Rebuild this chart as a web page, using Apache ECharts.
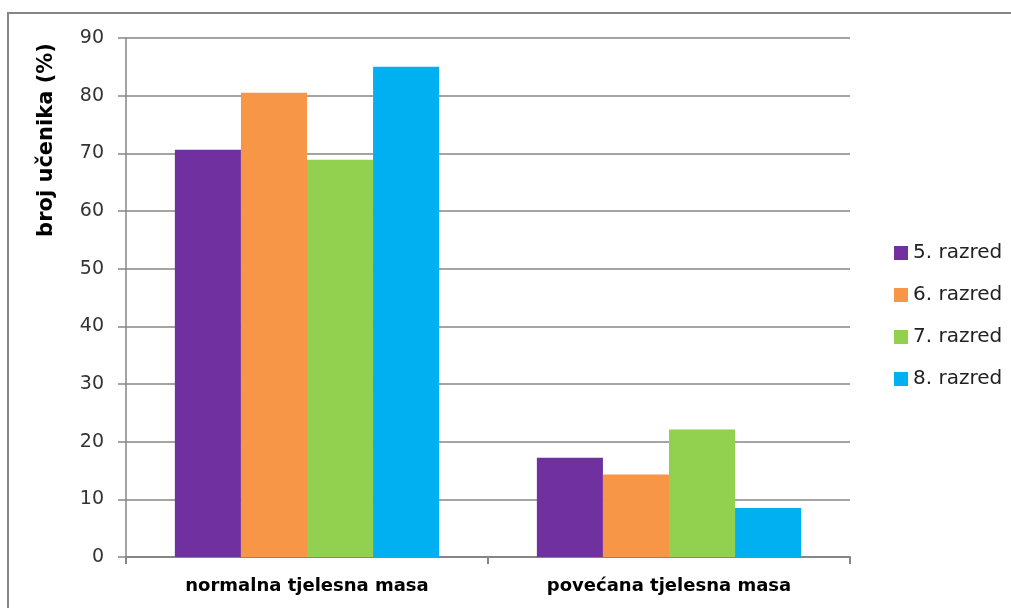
<!DOCTYPE html>
<html>
<head>
<meta charset="utf-8">
<script src="https://cdn.jsdelivr.net/npm/echarts@6/dist/echarts.min.js"></script>
<style>
  html, body { margin: 0; padding: 0; background: #fff; }
  #chart { width: 1011px; height: 608px; }
</style>
</head>
<body>
<div id="chart"></div>
<script>
// kategorije i vrijednosti (postotak učenika)
var categories = ['normalna tjelesna masa', 'povećana tjelesna masa']
var razred5 = [70.6, 17.2]
var razred6 = [80.5, 14.3]
var razred7 = [68.9, 22.1]
var razred8 = [85.0, 8.5]
var seriesNames = ['5. razred', '6. razred', '7. razred', '8. razred']
var colorList = ['#7030A0', '#F79646', '#92D050', '#00B0F0']

var font = 'DejaVu Sans'

function bar (name, data, color) {
  return {
    name: name,
    type: 'bar',
    data: data,
    barGap: '0%',
    barCategoryGap: '27%',
    itemStyle: { color: color }
  }
}

var chart = echarts.init(document.getElementById('chart'))
chart.setOption({
  animation: false,
  color: colorList,
  grid: {
    left: 126,
    right: 161,
    top: 38,
    bottom: 51
  },
  legend: {
    orient: 'vertical',
    left: 889,
    top: 238,
    itemWidth: 14,
    itemHeight: 14,
    itemGap: 22,
    itemStyle: { borderWidth: 0 },
    icon: 'rect',
    data: seriesNames,
    textStyle: { fontFamily: font, fontSize: 20, color: '#222' }
  },
  xAxis: {
    type: 'category',
    data: categories,
    axisLine: { lineStyle: { color: '#868686', width: 2 } },
    axisTick: { show: true, length: 7, lineStyle: { color: '#868686', width: 2 } },
    axisLabel: {
      margin: 20,
      fontFamily: font,
      fontWeight: 'bold',
      fontSize: 18,
      color: '#000'
    }
  },
  yAxis: {
    type: 'value',
    min: 0,
    max: 90,
    interval: 10,
    axisLine: { show: true, lineStyle: { color: '#868686', width: 1.5 } },
    axisTick: { show: true, length: 8, lineStyle: { color: '#868686', width: 1.5 } },
    axisLabel: {
      margin: 22,
      fontFamily: font,
      fontSize: 19,
      color: '#333'
    },
    splitLine: { lineStyle: { color: '#868686', width: 1.5 } }
  },
  graphic: [
    {
      type: 'rect',
      shape: { x: 8, y: 13, width: 1020, height: 620 },
      style: { fill: 'none', stroke: '#868686', lineWidth: 2 },
      silent: true
    },
    {
      type: 'text',
      x: 47,
      y: 140,
      rotation: Math.PI / 2,
      style: {
        text: 'broj učenika (%)',
        fontFamily: font,
        fontWeight: 'bold',
        fontSize: 21,
        fill: '#000',
        align: 'center',
        verticalAlign: 'middle'
      }
    }
  ],
  series: [
    bar(seriesNames[0], razred5, colorList[0]),
    bar(seriesNames[1], razred6, colorList[1]),
    bar(seriesNames[2], razred7, colorList[2]),
    bar(seriesNames[3], razred8, colorList[3])
  ]
})
</script>
</body>
</html>
